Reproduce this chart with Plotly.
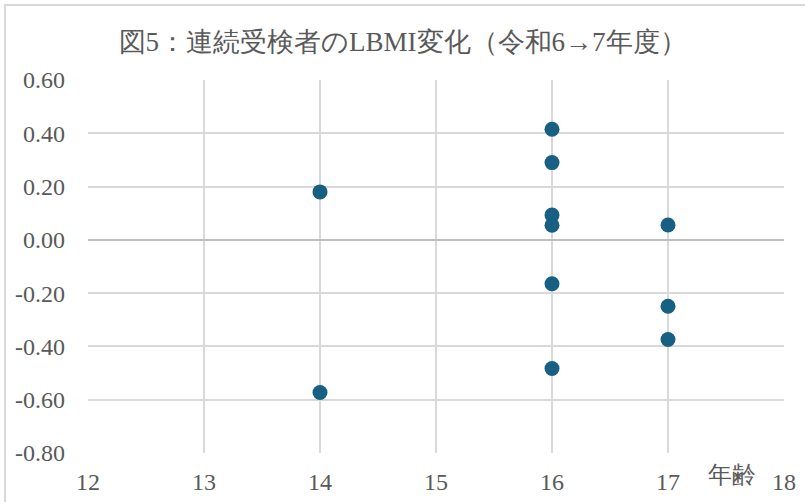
import plotly.graph_objects as go

# Age (x) and LBMI change (y) for students tested in both years
ages = [14, 14, 16, 16, 16, 16, 16, 16, 17, 17, 17]
lbmi_change = [0.18, -0.573, 0.415, 0.29, 0.093, 0.055, -0.165, -0.483, 0.056, -0.249, -0.374]

x_ticks = [12, 13, 14, 15, 16, 17, 18]
y_ticks = [0.6, 0.4, 0.2, 0.0, -0.2, -0.4, -0.6, -0.8]
y_tick_text = ["0.60", "0.40", "0.20", "0.00", "-0.20", "-0.40", "-0.60", "-0.80"]

title_text = "図5：連続受検者のLBMI変化（令和6→7年度）"
x_title = "年齢"

SERIF = "Liberation Serif"
TEXT_COLOR = "#595959"
GRID = "#d9d9d9"

fig = go.Figure()
fig.add_trace(go.Scatter(
    x=ages, y=lbmi_change, mode="markers",
    marker=dict(size=15, color="#185f84"),
    showlegend=False, hoverinfo="x+y",
))

W, H = 805, 502
L, R, T, B = 88, 21, 80, 49
pw, ph = W - L - R, H - T - B

fig.update_layout(
    width=W, height=H,
    margin=dict(l=L, r=R, t=T, b=B, autoexpand=False),
    paper_bgcolor="white", plot_bgcolor="white",
    font=dict(family=SERIF, color=TEXT_COLOR),
    title=dict(text=title_text, x=0.5, xanchor="center", y=1 - 42 / H, yanchor="middle",
               font=dict(size=27, color=TEXT_COLOR, family=SERIF)),
    xaxis=dict(range=[12, 18], tickvals=x_ticks, showgrid=True, gridcolor=GRID, gridwidth=1.5,
               zeroline=False, showline=False, ticks="", automargin=False,
               tickfont=dict(size=24, color=TEXT_COLOR, family=SERIF),
               ticklabelstandoff=12),
    yaxis=dict(range=[-0.8, 0.6], tickvals=y_ticks, ticktext=y_tick_text, showgrid=True,
               gridcolor=GRID, gridwidth=1.5, zeroline=True, zerolinecolor="#bfbfbf",
               zerolinewidth=1.5, showline=False, ticks="", automargin=False,
               tickfont=dict(size=24, color=TEXT_COLOR, family=SERIF), ticklabelstandoff=22),
    shapes=[
        # outer chart frame (top and left edges visible, right/bottom run off the page)
        dict(type="rect", xref="paper", yref="paper",
             x0=(5 - L) / pw, x1=(W + 10 - L) / pw,
             y0=-(H + 10 - T - ph) / ph, y1=1 + (T - 5) / ph,
             line=dict(color=GRID, width=2), layer="below"),
    ],
    annotations=[
        dict(text=x_title, xref="paper", yref="paper",
             x=(732 - L) / pw, y=-(475 - T - ph) / ph, xanchor="center", yanchor="middle",
             showarrow=False, font=dict(size=24, color=TEXT_COLOR, family=SERIF)),
    ],
)

fig.write_html("out.html")
